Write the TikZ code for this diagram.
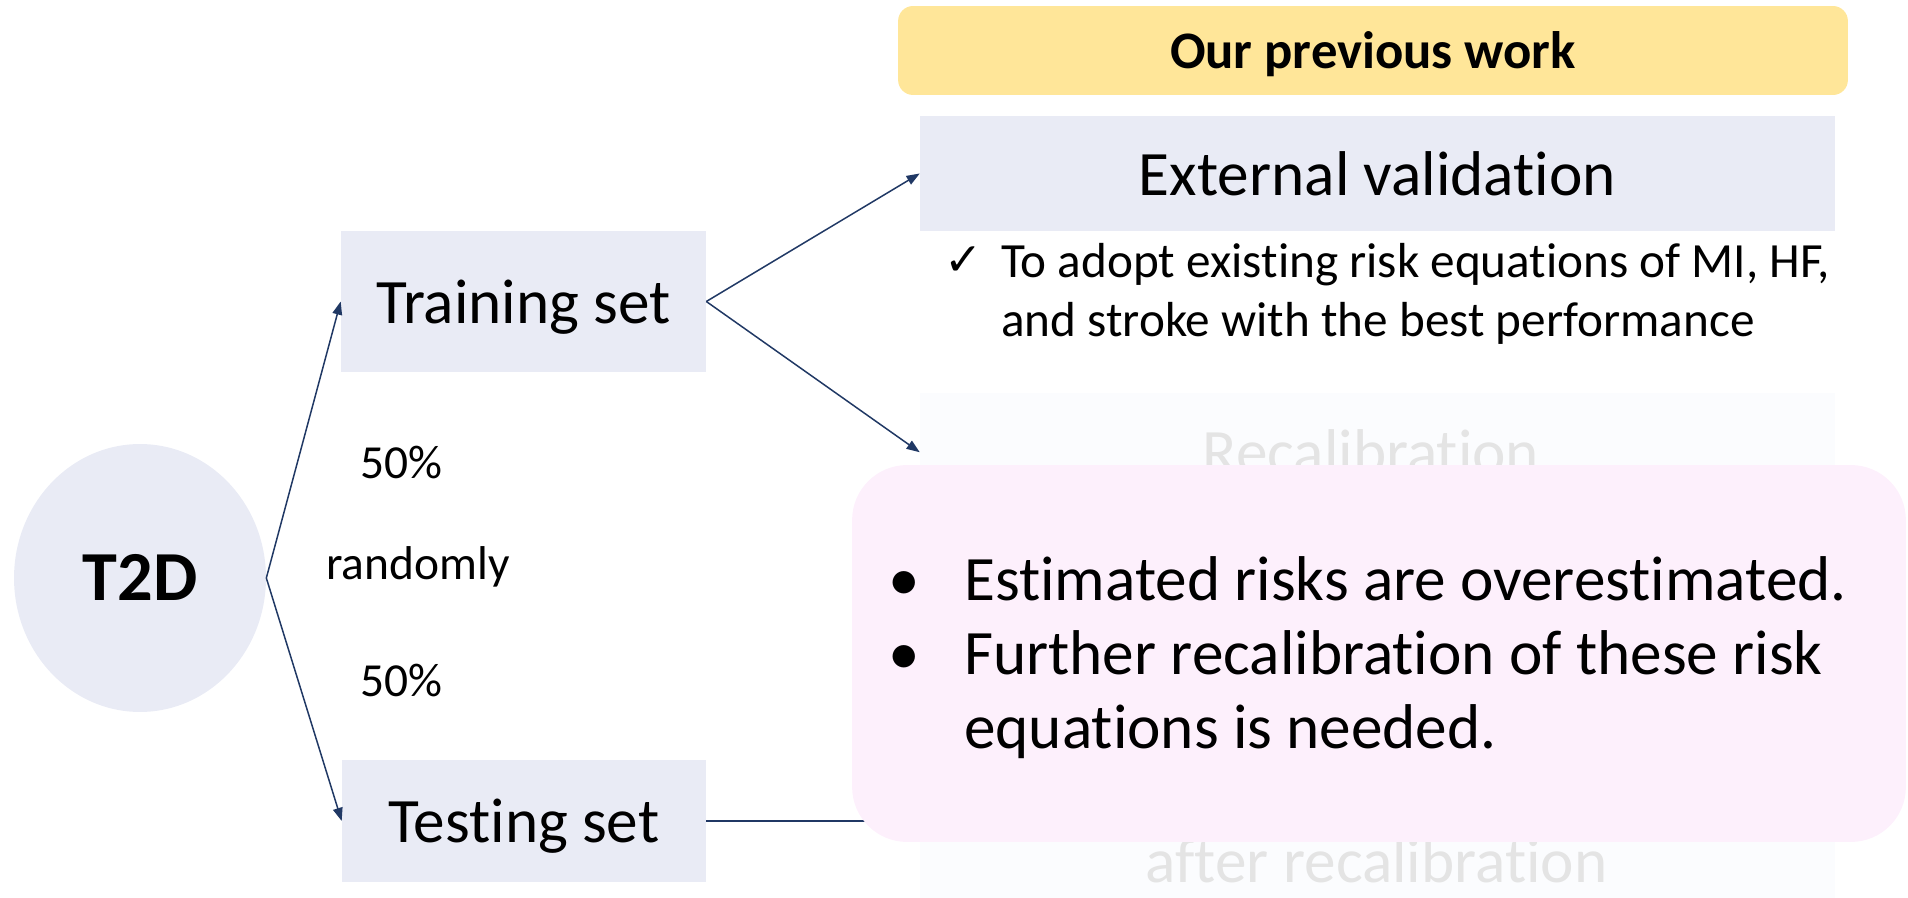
\documentclass[tikz,border=0pt]{standalone}
\usepackage{fontspec}
\setmainfont{Carlito}[Ligatures=NoCommon]
\newfontfamily\checkfont{DejaVu Sans}
\usetikzlibrary{arrows.meta,positioning,shapes.geometric}

\definecolor{boxblue}{HTML}{E9EBF5}
\definecolor{headyellow}{HTML}{FFE699}
\definecolor{notepink}{HTML}{FDF0FC}
\definecolor{fadebox}{HTML}{FBFCFE}
\definecolor{fadetext}{HTML}{E4E4E4}
\definecolor{linenavy}{HTML}{203864}

\begin{document}
\begin{tikzpicture}[x=0.02cm,y=-0.02cm,
    setbox/.style={fill=boxblue,inner sep=0pt,font=\fontsize{36}{43}\selectfont,text height=28pt,text depth=3.5pt},
    arr/.style={draw=linenavy,line width=0.85pt,-{Triangle[length=7.5pt,width=5.5pt]}},
    small/.style={inner sep=0pt,anchor=base,font=\fontsize{27}{32}\selectfont}
]
            \useasboundingbox (0,0) rectangle (1908,898);
            \node[fill=headyellow,rounded corners=0.3cm,inner sep=0pt,minimum width=19cm,minimum height=1.78cm,
                font=\bfseries\fontsize{30}{36}\selectfont,text height=23pt,text depth=3pt] (prev) at (1373,50.5) {Our previous work};
            \node[setbox,minimum width=18.3cm,minimum height=2.3cm] (ext) at (1377.5,173.5) {External validation};
            \node[inner sep=0pt,anchor=base west,font=\checkfont\fontsize{26}{30}\selectfont] (chk) at (944,276) {✓};
            \node[inner sep=0pt,anchor=base west,align=left,font=\fontsize{28}{33.6}\selectfont] (adopt) at (1001,337)
                {To adopt existing risk equations of MI, HF,\\and stroke with the best performance};
            \node[fill=fadebox,inner sep=0pt,minimum width=18.3cm,minimum height=10.1cm] (recal) at (1377.5,645.5) {};
            \node[inner sep=0pt,anchor=base,text=fadetext,font=\fontsize{36}{43}\selectfont] (recaltxt) at (1371,474) {Recalibration};
            \node[inner sep=0pt,anchor=base,text=fadetext,font=\fontsize{36}{43}\selectfont] (aftertxt) at (1376.5,882) {after recalibration};
            \node[setbox,minimum width=7.3cm,minimum height=2.82cm] (train) at (523.5,301.5) {Training set};
            \node[setbox,minimum width=7.28cm,minimum height=2.44cm] (test) at (524,821) {Testing set};
            \node[ellipse,fill=boxblue,inner sep=0pt,minimum width=5.04cm,minimum height=5.36cm,
                font=\bfseries\fontsize{40}{48}\selectfont,text height=28pt,text depth=2pt] (t2d) at (140,578) {T2D};
            \node[small] (upper) at (401,479) {50\%};
            \node[small] (rand) at (418,580) {randomly};
            \node[small] (lower) at (401,696) {50\%};
            \draw[arr] (t2d.east) -- (train.west);
            \draw[arr] (t2d.east) -- (test.west);
            \draw[arr] (train.east) -- (ext.west);
            \draw[arr] (train.east) -- (recal.west |- recaltxt);
            \draw[arr] (test.east) -- (recal.west |- test.east);
            \node[fill=notepink,rounded corners=1.1cm,inner sep=0pt,minimum width=21.08cm,minimum height=7.54cm] (note) at (1379,653.5) {};
            \node[inner sep=0pt,anchor=base west,align=left,font=\fontsize{36}{42}\selectfont] (bullets) at (888,748)
                {\makebox[43.2pt][l]{•}Estimated risks are overestimated.\\
                 \makebox[43.2pt][l]{•}Further recalibration of these risk\\
                 \hspace*{43.2pt}equations is needed.};
        \end{tikzpicture}
\end{document}
